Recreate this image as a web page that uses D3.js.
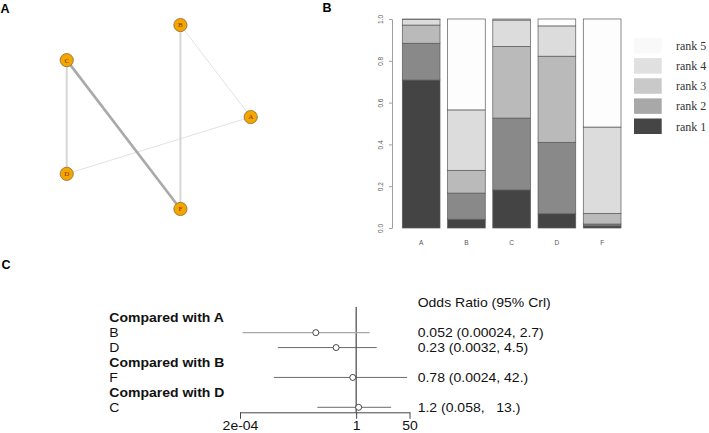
<!DOCTYPE html>
<html><head><meta charset="utf-8">
<script src="https://cdn.jsdelivr.net/npm/d3@7"></script>
<style>
html,body{margin:0;padding:0;background:#fff;}
svg{display:block;}
</style></head>
<body>
<svg id="chart" width="709" height="433"></svg>
<script>
// ---------- DATA ----------
// Panel A: network
const treatments = ["A", "B", "C", "D", "F"];
const edgeFrom = ["B", "D", "B", "C", "C"];
const edgeTo   = ["A", "A", "F", "D", "F"];
const edgeStudies = [1, 1, 2, 2, 3];

// Panel B: rank probabilities (per treatment A,B,C,D,F)
const rankNames = ["rank 1", "rank 2", "rank 3", "rank 4", "rank 5"];
const rank1 = [0.708, 0.042, 0.182, 0.068, 0.010];
const rank2 = [0.176, 0.125, 0.344, 0.342, 0.009];
const rank3 = [0.087, 0.109, 0.343, 0.412, 0.051];
const rank4 = [0.027, 0.289, 0.126, 0.145, 0.413];
const rank5 = [0.002, 0.435, 0.005, 0.033, 0.517];
const yTicks = [0, 0.2, 0.4, 0.6, 0.8, 1.0];

// Panel C: forest plot
const rowLabels = ["Compared with A", "B", "D", "Compared with B", "F", "Compared with D", "C"];
const rowIsGroup = [true, false, false, true, false, true, false];
const cmpLabels = ["B", "D", "F", "C"];
const oddsRatio = [0.052, 0.23, 0.78, 1.2];
const ciLow  = [0.00024, 0.0032, 0.0024, 0.058];
const ciHigh = [2.7, 4.5, 42, 13];
const ciText = ["0.052 (0.00024, 2.7)", "0.23 (0.0032, 4.5)", "0.78 (0.0024, 42.)", "1.2 (0.058,   13.)"];
const forestTicks = [2e-4, 1, 50];
const forestTickLabels = ["2e-04", "1", "50"];

// ---------- DRAW ----------
const svg = d3.select("#chart");
const sans = "Liberation Sans, Arial, sans-serif";
const serif = "Liberation Serif, Times New Roman, serif";

// panel letters
[["A", 0.5, 13], ["B", 322.5, 12], ["C", 1.5, 268.5]].forEach(([t, x, y]) => {
  svg.append("text").attr("x", x).attr("y", y).text(t)
    .attr("font-family", sans).attr("font-weight", "bold").attr("font-size", 12.5).attr("fill", "#000");
});

// ----- Panel A: network (circle layout) -----
const nx = d3.scaleLinear().domain([-1, 1]).range([47.3, 250.7]);
const ny = d3.scaleLinear().domain([-1, 1]).range([213.7, 20.3]);
const pos = {};
treatments.forEach((t, i) => {
  const a = 2 * Math.PI * i / treatments.length;
  pos[t] = [nx(Math.cos(a)), ny(Math.sin(a))];
});
const edgeW = d3.scaleLinear().domain([1, 2, 3]).range([0.7, 2, 2.6]);
const edgeC = d3.scaleLinear().domain([1, 2, 3]).range(["#d4d4d4", "#d6d6d6", "#a9a9a9"]);
const gNet = svg.append("g");
gNet.selectAll("line").data(edgeFrom.map((f, i) => ({f, t: edgeTo[i], w: edgeStudies[i]})))
  .join("line")
  .attr("x1", d => pos[d.f][0]).attr("y1", d => pos[d.f][1])
  .attr("x2", d => pos[d.t][0]).attr("y2", d => pos[d.t][1])
  .attr("stroke", d => edgeC(d.w)).attr("stroke-width", d => edgeW(d.w));
const nodes = gNet.selectAll("g.node").data(treatments).join("g")
  .attr("transform", d => `translate(${pos[d][0]},${pos[d][1]})`);
nodes.append("circle").attr("r", 6.6).attr("fill", "#f5a500").attr("stroke", "#8a6b2e").attr("stroke-width", 0.8);
nodes.append("text").text(d => d).attr("text-anchor", "middle").attr("dy", "0.35em")
  .attr("font-family", serif).attr("font-size", 7).attr("fill", "#7a3510");

// ----- Panel B: stacked rank bars -----
const xB = d3.scaleBand().domain(treatments).range([402.3, 621]).paddingInner(1 / 6).paddingOuter(0);
const yB = d3.scaleLinear().domain([0, 1]).range([228, 19]);
const barColors = d3.scaleOrdinal().domain(rankNames).range(["#444444", "#898989", "#bababa", "#dcdcdc", "#fdfdfd"]);
const legendColors = d3.scaleOrdinal().domain(rankNames).range(["#454545", "#a8a8a8", "#c9c9c9", "#e0e0e0", "#f9f9f9"]);
const rankTable = treatments.map((t, i) => ({
  t, "rank 1": rank1[i], "rank 2": rank2[i], "rank 3": rank3[i], "rank 4": rank4[i], "rank 5": rank5[i]
}));
const stacked = d3.stack().keys(rankNames)(rankTable);
const gBars = svg.append("g");
stacked.forEach(layer => {
  gBars.selectAll(null).data(layer).join("rect")
    .attr("x", d => xB(d.data.t)).attr("width", xB.bandwidth())
    .attr("y", d => yB(d[1])).attr("height", d => yB(d[0]) - yB(d[1]))
    .attr("fill", barColors(layer.key)).attr("stroke", "#5a5a5a").attr("stroke-width", 0.7);
});
// y axis
const yAxis = svg.append("g").attr("transform", "translate(392,0)")
  .call(d3.axisLeft(yB).tickValues(yTicks).tickFormat(d3.format(".1f")).tickSize(3).tickSizeOuter(0));
yAxis.select(".domain").attr("stroke", "#777").attr("stroke-width", 0.7);
yAxis.selectAll(".tick line").attr("stroke", "#777").attr("stroke-width", 0.7);
yAxis.selectAll(".tick text").attr("transform", "rotate(-90)").attr("x", 0).attr("y", -9.3).attr("dy", null)
  .attr("text-anchor", "middle").attr("font-family", sans).attr("font-size", 6.5).attr("fill", "#555");
// x labels
svg.append("g").selectAll("text").data(treatments).join("text")
  .attr("x", d => xB(d) + xB.bandwidth() / 2).attr("y", 244.5).text(d => d)
  .attr("text-anchor", "middle").attr("font-family", sans).attr("font-size", 6.5).attr("fill", "#555");
// legend
const legY = d3.scalePoint().domain(rankNames.slice().reverse()).range([38, 118.5]);
const gLeg = svg.append("g");
gLeg.selectAll("rect").data(rankNames).join("rect")
  .attr("x", 634).attr("width", 27.7).attr("y", d => legY(d)).attr("height", 15.5)
  .attr("fill", d => legendColors(d));
gLeg.selectAll("text").data(rankNames).join("text")
  .attr("x", 676).attr("y", d => legY(d) + 7.8).attr("dy", "0.35em").text(d => d)
  .attr("font-family", serif).attr("font-size", 12).attr("fill", "#333");

// ----- Panel C: forest plot -----
const xF = d3.scaleLog().domain([2e-4, 50]).range([240, 409.5]);
const yF = d3.scalePoint().domain(d3.range(rowLabels.length)).range([317.7, 407.3]);
const fsz = 12.5;
const stretch = 1.12;
const gF = svg.append("g").attr("font-family", sans).attr("font-size", fsz).attr("fill", "#111");
// left labels (horizontally stretched like the source render)
const gLeft = gF.append("g").attr("transform", `translate(109.3,0) scale(${stretch},1)`);
gLeft.selectAll("text.row").data(rowLabels).join("text").attr("class", "row")
  .attr("x", 0).attr("y", (d, i) => yF(i)).attr("dy", "0.36em").text(d => d)
  .attr("font-weight", (d, i) => rowIsGroup[i] ? "bold" : "normal");
const cmpRows = cmpLabels.map((lab, j) => {
  let idx = -1;
  rowLabels.forEach((r, i) => { if (!rowIsGroup[i] && r === lab) idx = i; });
  return {lab, i: idx, or: oddsRatio[j], lo: ciLow[j], hi: ciHigh[j], txt: ciText[j], j};
});
// reference line
gF.append("line").attr("x1", xF(1)).attr("x2", xF(1)).attr("y1", 307).attr("y2", 412.3)
  .attr("stroke", "#222").attr("stroke-width", 1);
gF.selectAll("line.ci").data(cmpRows).join("line").attr("class", "ci")
  .attr("x1", d => xF(d.lo)).attr("x2", d => xF(d.hi))
  .attr("y1", d => yF(d.i)).attr("y2", d => yF(d.i))
  .attr("stroke", d => d.j === 0 ? "#a8a8a8" : "#5a5a5a").attr("stroke-width", d => d.j === 0 ? 1.2 : 0.9);
gF.selectAll("circle").data(cmpRows).join("circle")
  .attr("cx", d => xF(d.or)).attr("cy", d => yF(d.i)).attr("r", 3)
  .attr("fill", "#fff").attr("stroke", "#333").attr("stroke-width", 0.9);
// right column
const gRight = gF.append("g").attr("transform", `translate(417.7,0) scale(${stretch},1)`);
gRight.append("text").attr("x", 0).attr("y", 302.3).attr("dy", "0.36em").text("Odds Ratio (95% Crl)");
gRight.selectAll("text.ci").data(cmpRows).join("text").attr("class", "ci")
  .attr("x", 0).attr("y", d => yF(d.i)).attr("dy", "0.36em").attr("xml:space", "preserve")
  .style("white-space", "pre").text(d => d.txt);
// axis
const fAxis = svg.append("g").attr("transform", "translate(0,412.3)")
  .call(d3.axisBottom(xF).tickValues(forestTicks).tickFormat((d, i) => forestTickLabels[i]).tickSize(6.5).tickSizeOuter(0).tickPadding(2));
fAxis.select(".domain").attr("stroke", "#333").attr("stroke-width", 0.9);
fAxis.selectAll(".tick line").attr("stroke", "#333").attr("stroke-width", 0.9);
fAxis.selectAll(".tick text").attr("font-family", sans).attr("font-size", fsz).attr("fill", "#111")
  .attr("transform", `scale(${stretch},1)`);
</script>
</body></html>
